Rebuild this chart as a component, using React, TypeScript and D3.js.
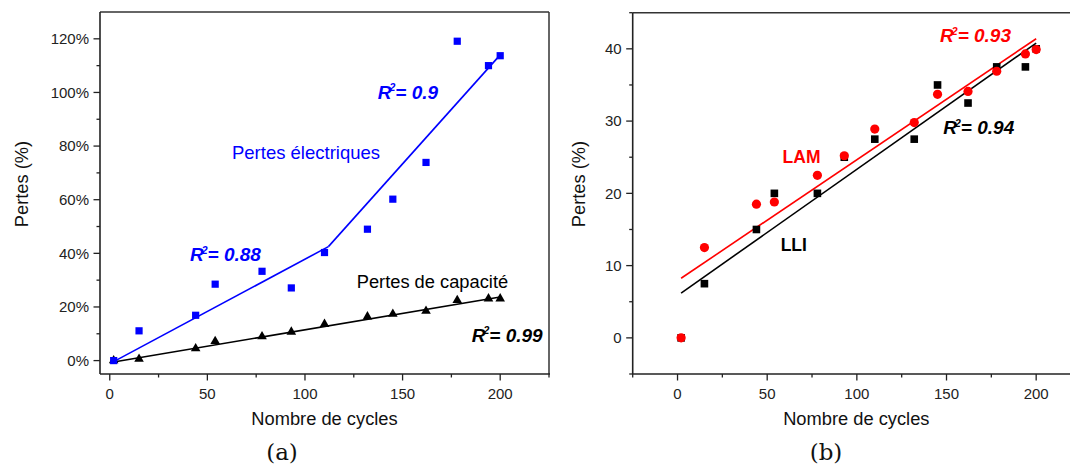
import React from "react";
import * as d3 from "d3";

// ---------- data ----------
const cycles = [2, 15, 44, 54, 78, 93, 110, 132, 145, 162, 178, 194, 200];
// panel (a)
const electricalLoss = [0, 11.1, 16.9, 28.5, 33.3, 27.1, 40.3, 49, 60.2, 73.9, 119.1, 110, 113.7];
const capacityLoss = [0, 0.6, 4.5, 7.2, 9, 10.7, 13.6, 16.4, 17.4, 18.5, 22.5, 23.1, 23.1];
const electricalFitLow = [[2, -0.4], [112, 42.5]];
const electricalFitHigh = [[112, 42.5], [200, 114]];
const capacityFit = [[2, -0.5], [200, 23.7]];
// panel (b)
const lliLoss = [0, 7.5, 15, 20, 20, 25, 27.5, 27.5, 35, 32.5, 37.5, 37.5, 40];
const lamLoss = [0, 12.5, 18.5, 18.8, 22.5, 25.2, 28.9, 29.8, 33.7, 34.1, 36.9, 39.3, 39.9];
const lamFit = [[2, 8.25], [200, 41.4]];
const lliFit = [[2, 6.2], [200, 40.8]];

// ticks
const aXMajor = [0, 50, 100, 150, 200];
const aXMinor = [25, 75, 125, 175, 225];
const aYMajor = [0, 20, 40, 60, 80, 100, 120];
const aYMinor = [10, 30, 50, 70, 90, 110];
const bXMajor = [0, 50, 100, 150, 200];
const bXMinor = [-25, 25, 75, 125, 175];
const bYMajor = [0, 10, 20, 30, 40];
const bYMinor = [-5, 5, 15, 25, 35, 45];

const SANS = "'Liberation Sans', Arial, sans-serif";
const AXIS = "#222";

function Axes({ x, y, xMajor, xMinor, yMajor, yMinor, yFmt, showRight }) {
  const [x0, x1] = x.range();
  const [y0, y1] = y.range();
  return (
    <g>
      <line x1={x0} x2={x1} y1={y1} y2={y1} stroke="#333" strokeWidth={1.5} />
      {showRight && <line x1={x1} x2={x1} y1={y0} y2={y1} stroke="#333" strokeWidth={1.5} />}
      <line x1={x0} x2={x1 + 1} y1={y0} y2={y0} stroke={AXIS} strokeWidth={1.6} />
      <line x1={x0} x2={x0} y1={y0} y2={y1} stroke={AXIS} strokeWidth={1.6} />
      {xMajor.map((v) => (
        <g key={"xm" + v}>
          <line x1={x(v)} x2={x(v)} y1={y0} y2={y0 + 6.5} stroke={AXIS} strokeWidth={1.3} />
          <text x={x(v)} y={y0 + 24.5} textAnchor="middle" fontSize={15} fontFamily={SANS} fill={AXIS}>{v}</text>
        </g>
      ))}
      {xMinor.map((v) => (
        <line key={"xn" + v} x1={x(v)} x2={x(v)} y1={y0} y2={y0 + 3.5} stroke={AXIS} strokeWidth={1.3} />
      ))}
      {yMajor.map((v) => (
        <g key={"ym" + v}>
          <line x1={x0 - 6.5} x2={x0} y1={y(v)} y2={y(v)} stroke={AXIS} strokeWidth={1.3} />
          <text x={x0 - 11} y={y(v)} dy="0.36em" textAnchor="end" fontSize={15} fontFamily={SANS} fill={AXIS}>{yFmt(v)}</text>
        </g>
      ))}
      {yMinor.map((v) => (
        <line key={"yn" + v} x1={x0 - 3.5} x2={x0} y1={y(v)} y2={y(v)} stroke={AXIS} strokeWidth={1.3} />
      ))}
    </g>
  );
}

function R2({ x, y, value, color }) {
  return (
    <text x={x} y={y} fontSize={19} fontWeight="bold" fontStyle="italic" fontFamily={SANS} fill={color}>
      R<tspan dy={-7.5} dx={-2} fontSize={10.5}>2</tspan><tspan dy={7.5}>= {value}</tspan>
    </text>
  );
}

export default function App() {
  // panel (a)
  const xa = d3.scaleLinear().domain([-5, 225]).range([100, 549]);
  const ya = d3.scaleLinear().domain([-5, 130]).range([374, 12]);
  // panel (b)
  const xb = d3.scaleLinear().domain([-25, 225]).range([632.7, 1081]);
  const yb = d3.scaleLinear().domain([-5, 45]).range([374, 12.7]);

  const lineA = d3.line().x((d) => xa(d[0])).y((d) => ya(d[1]));
  const lineB = d3.line().x((d) => xb(d[0])).y((d) => yb(d[1]));
  const tri = d3.symbol(d3.symbolTriangle, 40)();

  return (
    <div style={{ position: "absolute", left: 0, top: 0 }}>
      <svg width={1070} height={476} style={{ display: "block", overflow: "hidden" }}>
        <rect width={1070} height={476} fill="#fff" />
        {/* ---------- panel (a) ---------- */}
        <Axes x={xa} y={ya} xMajor={aXMajor} xMinor={aXMinor} yMajor={aYMajor} yMinor={aYMinor}
          yFmt={(v) => v + "%"} showRight={true} />
        <path d={lineA(electricalFitLow)} stroke="#0000ff" strokeWidth={1.6} fill="none" />
        <path d={lineA(electricalFitHigh)} stroke="#0000ff" strokeWidth={1.6} fill="none" />
        <path d={lineA(capacityFit)} stroke="#000" strokeWidth={1.6} fill="none" />
        {cycles.map((c, i) => (
          <path key={"t" + i} d={tri} transform={`translate(${xa(c)},${ya(capacityLoss[i])})`} fill="#000" />
        ))}
        {cycles.map((c, i) => (
          <rect key={"s" + i} x={xa(c) - 3.6} y={ya(electricalLoss[i]) - 3.6} width={7.2} height={7.2} fill="#0000ff" />
        ))}
        <text x={xa(62.6)} y={ya(75.2)} fontSize={18.5} fontFamily={SANS} fill="#0000ff">Pertes électriques</text>
        <text x={xa(126.5)} y={ya(27.1)} fontSize={18.3} fontFamily={SANS} fill="#000">Pertes de capacité</text>
        <R2 x={xa(137.3)} y={ya(97.6)} value="0.9" color="#0000ff" />
        <R2 x={xa(41.1)} y={ya(37.0)} value="0.88" color="#0000ff" />
        <R2 x={xa(185.4)} y={ya(7.1)} value="0.99" color="#000" />
        <text x={324.5} y={425} textAnchor="middle" fontSize={18.3} fontFamily={SANS} fill="#111">Nombre de cycles</text>
        <text transform="translate(28,184) rotate(-90)" textAnchor="middle" fontSize={18.3} fontFamily={SANS} fill="#111">Pertes (%)</text>
        <text x={282} y={460} textAnchor="middle" fontSize={23} fontFamily="'DejaVu Serif', serif" fill="#111">(a)</text>

        {/* ---------- panel (b) ---------- */}
        <Axes x={xb} y={yb} xMajor={bXMajor} xMinor={bXMinor} yMajor={bYMajor} yMinor={bYMinor}
          yFmt={(v) => String(v)} showRight={true} />
        <path d={lineB(lliFit)} stroke="#000" strokeWidth={1.6} fill="none" />
        <path d={lineB(lamFit)} stroke="#ff0000" strokeWidth={1.6} fill="none" />
        {cycles.map((c, i) => (
          <rect key={"q" + i} x={xb(c) - 3.8} y={yb(lliLoss[i]) - 3.8} width={7.6} height={7.6} fill="#000" />
        ))}
        {cycles.map((c, i) => (
          <circle key={"c" + i} cx={xb(c)} cy={yb(lamLoss[i])} r={4.6} fill="#ff0000" />
        ))}
        <R2 x={xb(146.4)} y={yb(40.88)} value="0.93" color="#ff0000" />
        <R2 x={xb(148.2)} y={yb(28.2)} value="0.94" color="#000" />
        <text x={xb(58.6)} y={yb(24.2)} fontSize={17.5} fontWeight="bold" fontFamily={SANS} fill="#ff0000">LAM</text>
        <text x={xb(57.5)} y={yb(12.06)} fontSize={17.5} fontWeight="bold" fontFamily={SANS} fill="#000">LLI</text>
        <text x={856.3} y={425} textAnchor="middle" fontSize={18.3} fontFamily={SANS} fill="#111">Nombre de cycles</text>
        <text transform="translate(584.5,184) rotate(-90)" textAnchor="middle" fontSize={18.3} fontFamily={SANS} fill="#111">Pertes (%)</text>
        <text x={826} y={460} textAnchor="middle" fontSize={23} fontFamily="'DejaVu Serif', serif" fill="#111">(b)</text>
      </svg>
    </div>
  );
}
